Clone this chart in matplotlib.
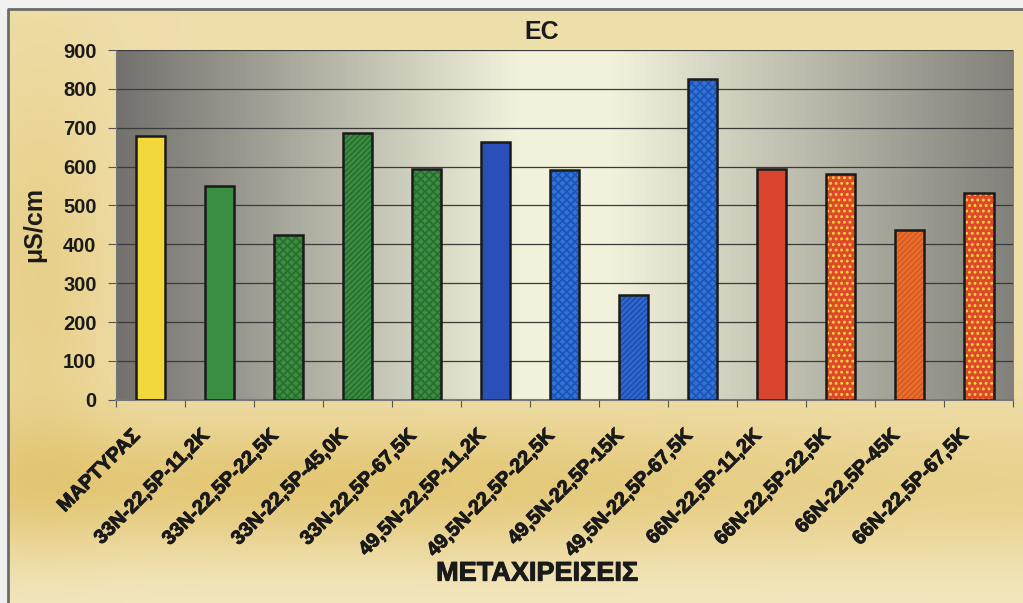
import numpy as np
import matplotlib
matplotlib.use("Agg")
import matplotlib.pyplot as plt
import matplotlib.patheffects as pe
from matplotlib.colors import LinearSegmentedColormap
from matplotlib.transforms import ScaledTranslation

categories = ["ΜΑΡΤΥΡΑΣ", "33N-22,5P-11,2K", "33N-22,5P-22,5K", "33N-22,5P-45,0K",
              "33N-22,5P-67,5K", "49,5N-22,5P-11,2K", "49,5N-22,5P-22,5K",
              "49,5N-22,5P-15K", "49,5N-22,5P-67,5K", "66N-22,5P-11,2K",
              "66N-22,5P-22,5K", "66N-22,5P-45K", "66N-22,5P-67,5K"]
values = [678, 550, 425, 686, 594, 663, 592, 270, 825, 594, 581, 437, 532]
face_colors = ["#F2D83A", "#3A8F42", "#3A8F42", "#3A8F42", "#3A8F42", "#2A4FB8",
               "#2E74DE", "#2F6AD0", "#2E74DE", "#D9452F", "#E0482C", "#E8702C", "#E0482C"]
hatches = [None, None, "xxxx", "//////", "xxxx", None, "xxxx", "//////", "xxxx",
           None, "...", "//////", "..."]
hatch_colors = [None, None, "#2A6E30", "#2A6E30", "#2A6E30", None, "#1F54B0",
                "#2050B0", "#1F54B0", None, "#F8D838", "#D85A20", "#F8D838"]
yticks = [0, 100, 200, 300, 400, 500, 600, 700, 800, 900]

plt.rcParams["font.family"] = ["Liberation Sans", "DejaVu Sans"]
plt.rcParams["hatch.linewidth"] = 1.3
BOLD = dict(family=["Liberation Sans", "DejaVu Sans"], weight="bold", color="#1A1A1A")
THICK = [pe.withStroke(linewidth=0.7, foreground="#1A1A1A")]

fig = plt.figure(figsize=(10.23, 6.03), dpi=100)
fig.patch.set_facecolor("#F0F1EE")

# chart area background (golden gradient), inset from the page
L, T = 8 / 1023, 9 / 603
bg = fig.add_axes([L, 0, 1 - L, 1 - T], zorder=-10)
bg.axis("off")
yy, xx = np.mgrid[0:1:200j, 0:1:300j]
band = 0.35 + 0.55 * np.exp(-((yy - 0.80) / 0.11) ** 2) * (0.5 + 0.5 * np.exp(-((xx - 0.3) / 0.45) ** 2))
band += 0.35 * np.exp(-((xx - 0.03) / 0.07) ** 2) * np.exp(-((yy - 0.45) / 0.35) ** 2)
band -= 0.2 * np.exp(-((yy - 1.0) / 0.08) ** 2)
bgcmap = LinearSegmentedColormap.from_list("bg", ["#F5ECCB", "#E2C46E"])
bg.imshow(band, cmap=bgcmap, extent=[0, 1, 0, 1], aspect="auto", origin="upper",
          vmin=0, vmax=1)
bg.set_xlim(0, 1)
bg.set_ylim(0, 1)
bg.plot([0, 0, 1], [0, 1, 1], color="#6A6A6A", lw=2.0, transform=bg.transAxes,
        clip_on=False)

ax = fig.add_axes([0.1134, 0.337, 0.877, 0.58])
x = np.arange(len(categories))

# plot-area gradient
grad = np.linspace(0, 1, 400)
g = np.interp(grad, [0, 0.45, 0.55, 1.0], [0.0, 1.0, 1.0, 0.12])
pcmap = LinearSegmentedColormap.from_list("pa", ["#72716D", "#F2F2DC"])
ax.imshow(g[np.newaxis, :], cmap=pcmap, extent=[0, 1, 0, 1], aspect="auto",
          transform=ax.transAxes, zorder=0)

for yv in yticks[1:]:
    ax.axhline(yv, color="#3A3A3A", lw=0.9, zorder=1)

w = 0.43
for i in range(len(categories)):
    ax.bar(x[i], values[i], width=w, color=face_colors[i], edgecolor="none", zorder=2)
    if hatches[i]:
        ax.bar(x[i], values[i], width=w, color="none", edgecolor=hatch_colors[i],
               hatch=hatches[i], linewidth=0, zorder=3)
    ax.bar(x[i], values[i], width=w, color="none", edgecolor="#1A1A1A", linewidth=1.8,
           zorder=4)

ax.set_xlim(-0.5, len(categories) - 0.5)
ax.set_ylim(0, 900)
ax.set_yticks(yticks)
ax.set_yticklabels([str(v) for v in yticks], fontsize=14.5, **BOLD)
ax.set_xticks(np.arange(len(categories) + 1) - 0.5, minor=False)
ax.set_xticklabels([])
ax.tick_params(axis="x", which="major", length=5, color="#555555")
ax.tick_params(axis="y", length=6, color="#555555", pad=8)

# category labels, rotated, placed at each category position
label_tf = ax.get_xaxis_transform() + ScaledTranslation(-20 / 100, -26 / 100,
                                                         fig.dpi_scale_trans)
for xi, name in zip(x, categories):
    ax.text(xi, 0, name, transform=label_tf, rotation=45, ha="right", va="top",
            rotation_mode="anchor", fontsize=14.3, path_effects=THICK,
            clip_on=False, **BOLD)

for s in ["top", "right"]:
    ax.spines[s].set_visible(False)
ax.spines["left"].set_color("#777777")
ax.spines["bottom"].set_color("#777777")
ax.spines["bottom"].set_linewidth(1.5)

ax.set_title("EC", fontsize=18, pad=8, x=0.475, **BOLD)
ax.set_ylabel("μS/cm", fontsize=18, **BOLD)
ax.yaxis.set_label_coords(-0.078, 0.5)
xl = ax.set_xlabel("ΜΕΤΑΧΙΡΕΙΣΕΙΣ", fontsize=19.5, **BOLD)
xl.set_path_effects(THICK)
ax.xaxis.set_label_coords(0.47, -0.46)

fig.savefig("out.png", dpi=100, facecolor=fig.get_facecolor())
